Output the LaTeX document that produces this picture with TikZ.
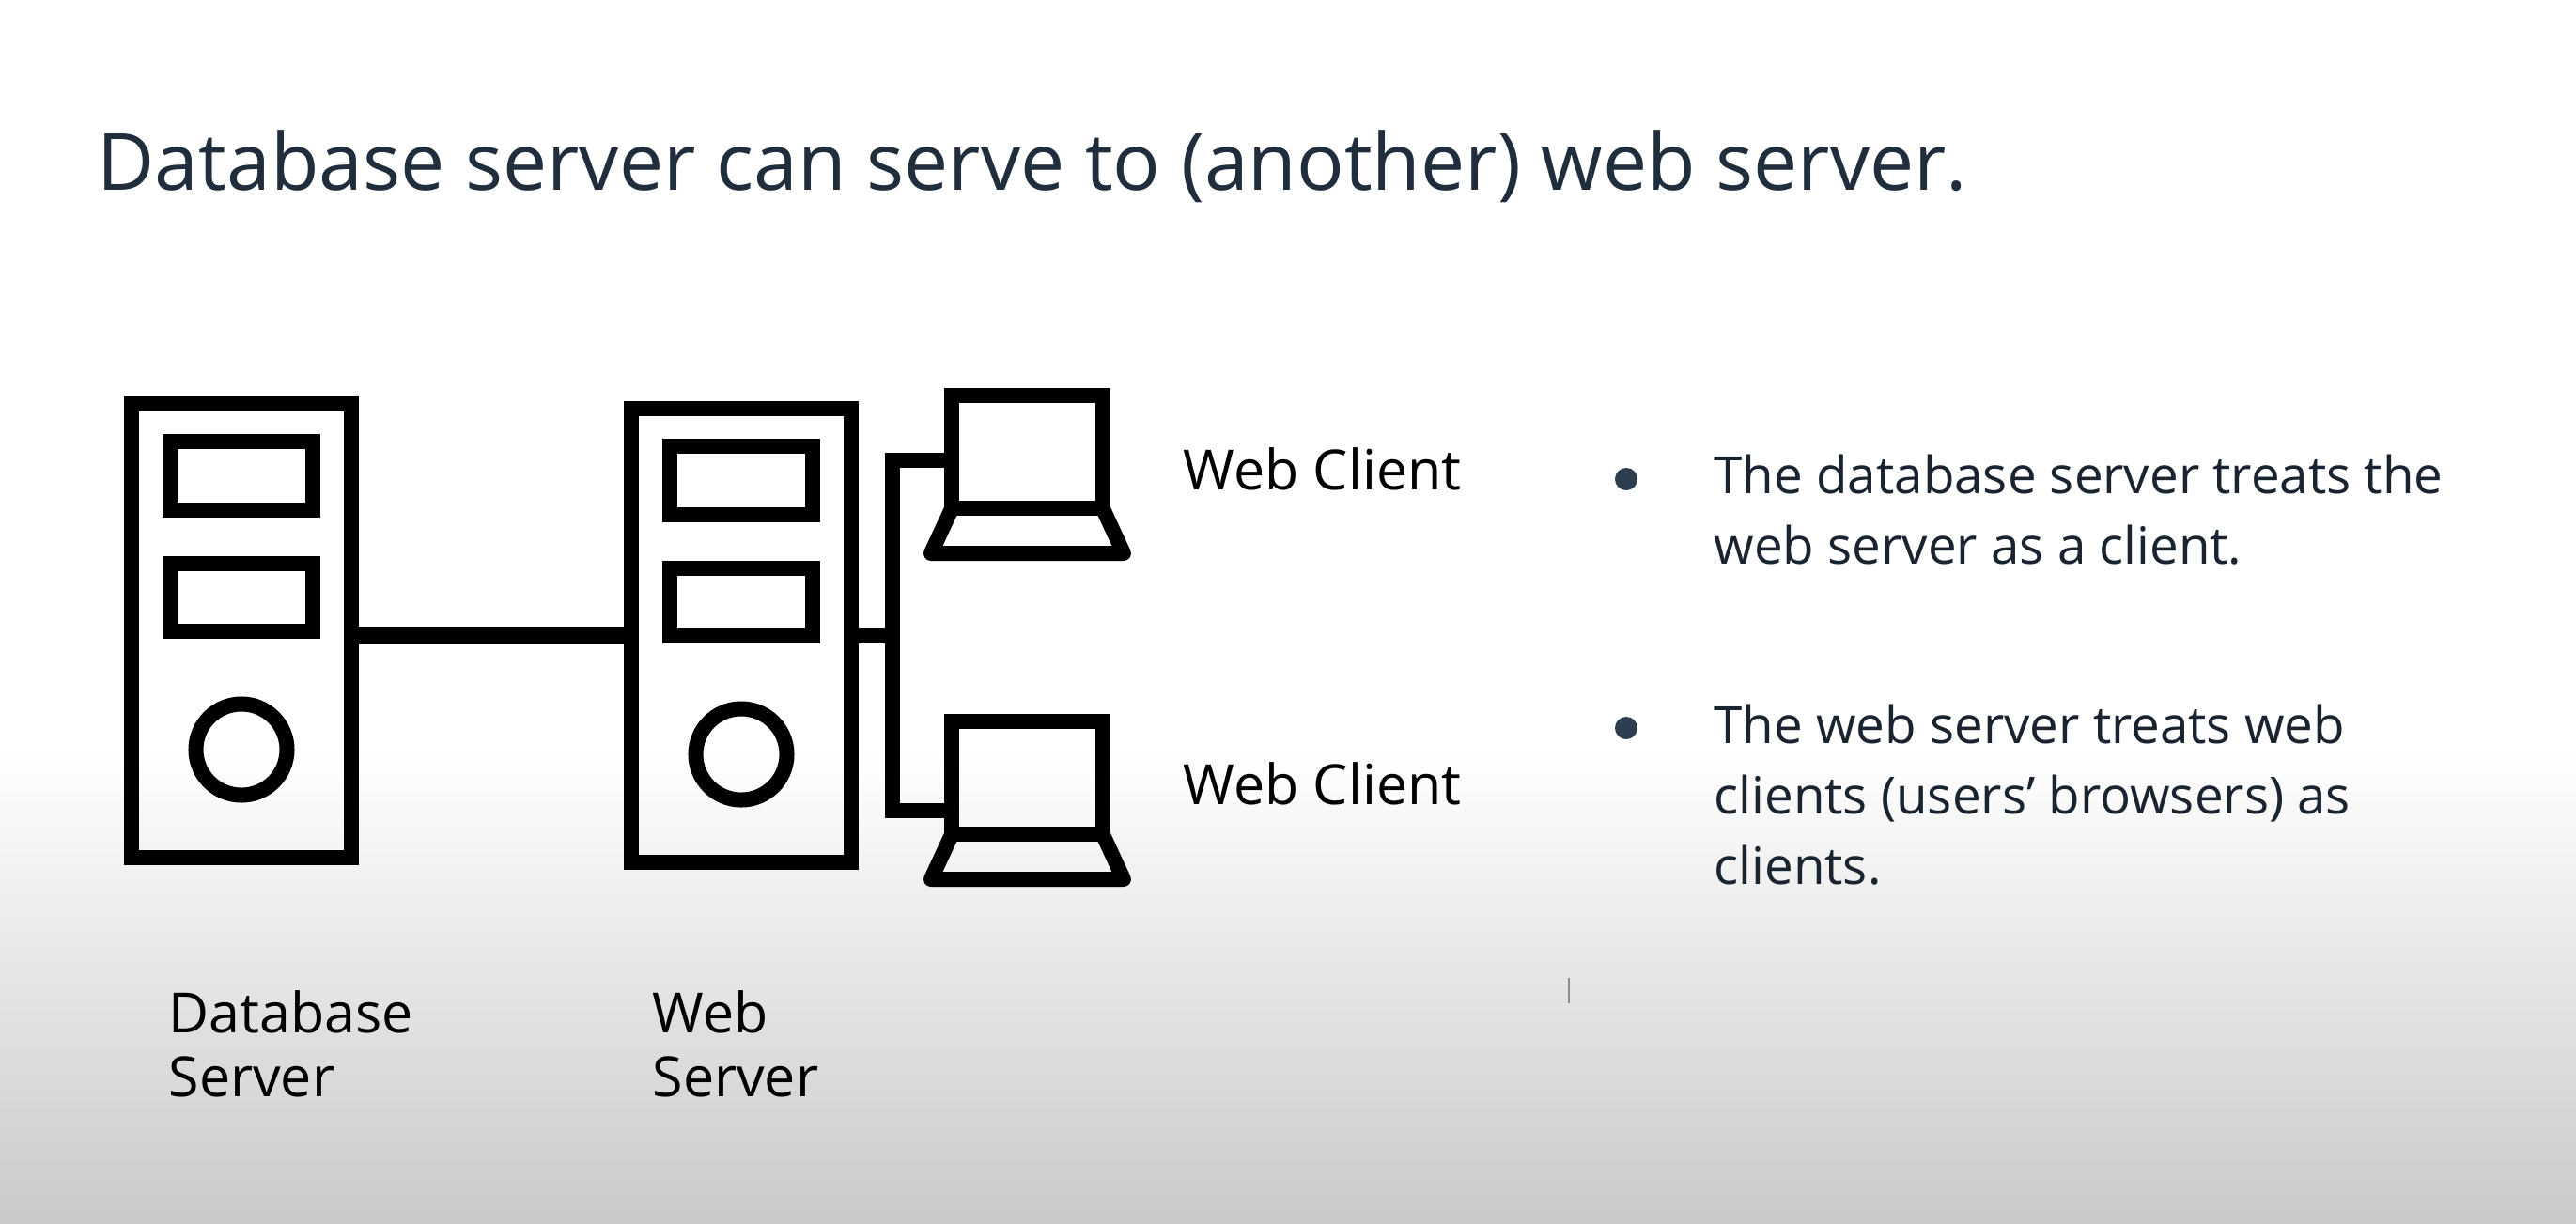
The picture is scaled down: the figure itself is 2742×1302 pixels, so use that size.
\documentclass[tikz,border=0pt]{standalone}
\usepackage{fontspec}
\setmainfont{Open Sans}
\usetikzlibrary{calc}

\definecolor{titleink}{HTML}{1F2D3D}
\definecolor{bulletink}{HTML}{2C3E50}
\definecolor{bodyink}{HTML}{1A2430}

\tikzset{
  x=0.01cm, y=-0.01cm,
  tower/.style={rectangle, draw=black, line width=4.55pt, outer sep=0pt, inner sep=0pt, minimum width=2.33cm, minimum height=4.82cm},
  slot/.style={rectangle, draw=black, line width=4.55pt, outer sep=0pt, inner sep=0pt, minimum width=1.52cm, minimum height=0.72cm},
  knob/.style={circle, draw=black, line width=4.55pt, outer sep=0pt, inner sep=0pt, minimum size=0.97cm},
  screen/.style={rectangle, draw=black, line width=4.55pt, outer sep=0pt, inner sep=0pt, minimum width=1.6cm, minimum height=1.19cm},
  keyboard/.style={draw=black, line width=4.55pt, line join=round},
  wire/.style={draw=black, line width=4.55pt},
  trunk/.style={draw=black, line width=5.4pt},
  dot/.style={circle, fill=bulletink, inner sep=0pt, minimum size=0.24cm},
  heading/.style={anchor=base west, inner sep=0pt, text=titleink, font=\fontsize{23.9}{29}\selectfont},
  caption/.style={anchor=north west, inner sep=0pt, align=left, text=black, font=\fontsize{16.8}{19.4}\selectfont},
  bullet/.style={anchor=north west, inner sep=0pt, align=left, text=bodyink, font=\fontsize{15.55}{21.4}\selectfont},
}

\begin{document}
\begin{tikzpicture}
    % slide background
    \fill[white] (0,0) rectangle (2742,800);
    \shade[top color=white, bottom color=black!21] (0,800) rectangle (2742,1302);
    \useasboundingbox (0,0) rectangle (2742,1302);

    \node[heading] (title) at (103,202) {Database server can serve to (another) web server.};

    % database server
    \node[tower] (dbserver) at (257,671.5) {};
    \node[slot] (dbslot1) at (257,506.5) {};
    \node[slot] (dbslot2) at (257,636) {};
    \node[knob] (dbknob) at (257,798) {};

    % web server
    \node[tower] (webserver) at (789,676.5) {};
    \node[slot] (webslot1) at (789,511.5) {};
    \node[slot] (webslot2) at (789,641) {};
    \node[knob] (webknob) at (789,803) {};

    % laptops
    \node[screen] (screen1) at (1093.5,481) {};
    \draw[keyboard] (screen1.south west) -- ++(-22.5,48.5) -- ++(205,0) -- (screen1.south east);
    \node[screen] (screen2) at (1093.5,828) {};
    \draw[keyboard] (screen2.south west) -- ++(-22.5,48.5) -- ++(205,0) -- (screen2.south east);

    \coordinate (bus1) at (950,490);
    \coordinate (bus2) at (950,863);
    \coordinate (busmid) at (950,676.5);

    \draw[trunk] (dbserver.east |- webserver.west) -- (webserver.west);
    \draw[wire] (webserver.east) -- (busmid);
    \draw[wire] (bus1 -| screen1.west) -- (bus1) -- (bus2) -- (bus2 -| screen2.west);

    \node[caption] (client1) at (1259,475.5) {Web Client};
    \node[caption] (client2) at (1259,811) {Web Client};
    \node[caption] (dblabel) at (179,1054) {Database\\Server};
    \node[caption] (weblabel) at (694,1054) {Web\\Server};

    \node[dot] (dot1) at (1731,510) {};
    \node[bullet] (note1) at (1824,483) {The database server treats the\\web server as a client.};
    \node[dot] (dot2) at (1731,775) {};
    \node[bullet] (note2) at (1824,749) {The web server treats web\\clients (users’ browsers) as\\clients.};

    \draw[black!45, line width=0.4pt] (1670,1041) -- (1670,1068);
\end{tikzpicture}
\end{document}
